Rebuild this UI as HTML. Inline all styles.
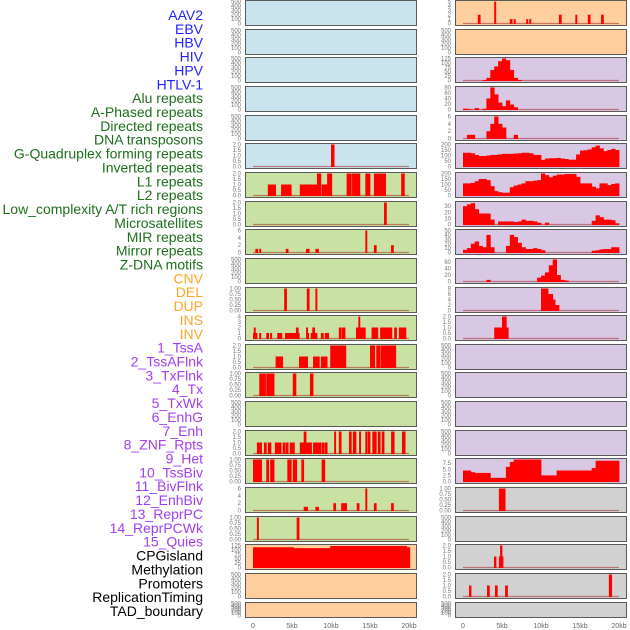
<!DOCTYPE html>
<html><head><meta charset="utf-8">
<style>
html,body{margin:0;padding:0;background:#fff;}
svg{display:block;font-family:"Liberation Sans",sans-serif;}
</style></head>
<body>
<svg id="chart" width="630" height="630" viewBox="0 0 630 630" xmlns="http://www.w3.org/2000/svg"></svg>
<script>
// ---- data ----
const trackLabels = ["AAV2","EBV","HBV","HIV","HPV","HTLV-1","Alu repeats","A-Phased repeats","Directed repeats","DNA transposons","G-Quadruplex forming repeats","Inverted repeats","L1 repeats","L2 repeats","Low_complexity A/T rich regions","Microsatellites","MIR repeats","Mirror repeats","Z-DNA motifs","CNV","DEL","DUP","INS","INV","1_TssA","2_TssAFlnk","3_TxFlnk","4_Tx","5_TxWk","6_EnhG","7_Enh","8_ZNF_Rpts","9_Het","10_TssBiv","11_BivFlnk","12_EnhBiv","13_ReprPC","14_ReprPCWk","15_Quies","CPGisland","Methylation","Promoters","ReplicationTiming","TAD_boundary"];
const labelGroups = [0,0,0,0,0,0,1,1,1,1,1,1,1,1,1,1,1,1,1,2,2,2,2,2,3,3,3,3,3,3,3,3,3,3,3,3,3,3,3,4,4,4,4,4];
const groupColors = ["#2222ff","#1e6e1e","#ffa526","#a040f0","#000000"];
const xTicks = [0,5,10,15,20];
const xTickLabels = ["0","5kb","10kb","15kb","20kb"];

const T500=[0,100,200,300,400,500], T2=[0,0.5,1,1.5,2], T1=[0,0.25,0.5,0.75,1];
const leftBg = ["b","b","b","b","b","b","g","g","g","g","g","g","g","g","g","g","g","g","g","o","o","o"];
const rightBg = ["o","o","p","p","p","p","p","p","p","p","p","p","p","p","p","p","p","y","y","y","y","y"];
const leftTicks = [T500,T500,T500,T500,T500,T2,T2,T2,[0,2,4,6],T500,T1,[0,1,2,3,4],T2,T1,T500,T2,T1,[0,2,4,6],T1,[0,25,50,75,100,125],T500,T500];
const rightTicks = [[0,1,2,3,4,5],T500,[0,25,50,75,100,125],[0,20,40,60,80],[0,2,4,6],[0,50,100,150,200],[0,50,100,150,200],[0,10,20,30],[0,10,20,30,40,50],[0,20,40,60],[0,2,4,6,8],T2,T500,T500,T500,T500,[0,2.5,5,7.5],T1,T500,T2,T2,T500];
const leftMax = [500,500,500,500,500,2,2,2,6,500,1,4,2,1,500,2,1,6,1,125,500,500];
const rightMax = [5,500,125,80,6,200,200,36,50,68,8,2,500,500,500,500,9,1,500,2,2,500];

const leftBars = [
 [],[],[],[],[],
 [[10.0,10.4,2]],
 [[1.9,2.9,1],[3.6,4.9,1],[6.0,8.2,1],[8.2,8.7,2],[8.8,9.5,1],[9.5,10.1,2],[12.0,12.6,2],[12.7,13.7,2],[14.4,15.0,2],[15.5,17.0,2],[19.0,19.4,2]],
 [[16.8,17.1,2]],
 [[0.3,0.6,1],[0.8,1.0,1],[4.2,4.5,1],[6.8,7.2,1],[8.0,8.4,1],[14.4,14.6,6],[15.5,15.8,2],[17.7,18.0,2]],
 [],
 [[4.0,4.3,1],[6.9,7.2,1],[8.0,8.2,1]],
 [[0,0.1,1],[0.1,0.3,2],[0.3,0.5,1],[0.8,1.0,1],[1.7,2.0,1],[2.2,2.4,1],[3.1,3.7,1],[4.1,5.5,1],[5.5,5.8,2],[5.8,5.9,1],[6.8,7.0,2],[7.0,7.1,1],[7.4,7.6,1],[7.6,7.9,2],[7.9,8.2,1],[8.7,9.0,1],[9.2,9.7,1],[11.0,11.3,2],[11.4,11.8,2],[13.2,13.5,2],[13.5,13.7,4],[13.7,14.4,2],[15.2,16.0,2],[16.3,17.8,2],[18.1,18.4,2],[18.7,19.6,2]],
 [[2.9,3.8,1],[5.9,7.0,1],[7.7,8.5,1],[8.7,9.5,1],[9.9,11.9,2],[15.0,15.6,2],[15.8,16.3,2],[16.4,18.3,2]],
 [[0.8,1.6,1],[1.7,2.7,1],[5.1,5.5,1],[7.3,7.7,1]],
 [],
 [[0.5,1.1,1],[1.4,1.7,1],[1.9,2.3,1],[2.8,3.6,1],[3.8,4.1,1],[4.2,4.5,1],[4.7,5.3,1],[6.0,6.5,1],[6.5,6.8,2],[6.8,7.5,1],[7.7,8.7,1],[8.8,9.1,1],[9.2,9.5,1],[10.4,10.6,2],[11.0,11.3,2],[12.3,12.6,2],[12.8,13.2,2],[13.6,13.8,2],[14.4,14.6,2],[14.7,15.0,2],[15.3,15.8,2],[16.0,16.3,2],[16.5,16.8,2],[17.7,18.1,2],[19.1,19.5,2]],
 [[0,1.1,1],[1.7,2.0,1],[2.2,2.7,1],[4.4,4.9,1],[5.1,5.6,1],[6.2,6.5,1],[8.8,9.2,1]],
 [[6.5,7.0,1],[8.0,8.4,1],[10.3,10.6,2],[11.3,12.0,2],[13.3,13.6,2],[14.4,14.6,6],[15.5,15.8,2],[17.7,18.0,2]],
 [[0.5,0.7,1],[5.6,5.9,1]],
 [[0,5.2,115],[5.2,9.9,110],[9.9,19.7,122],[19.7,20.1,115]],
 [],[]
];
const rightBars = [
 [[1.9,2.2,2],[4.0,4.2,5],[6.0,6.3,1],[6.5,6.7,1],[8.1,8.3,1],[8.5,8.7,1],[12.3,12.6,2],[14.4,14.6,2],[16.0,16.3,2],[17.7,18.0,2]],
 [],[],[],[],[],[],[],[],[],
 [[10.0,10.9,8],[10.9,11.5,6],[11.5,11.8,4],[11.8,12.3,2]],
 [[4.0,5.0,1],[5.0,5.55,2],[5.55,5.8,1]],
 [],[],[],[],[],
 [[4.6,5.4,1]],
 [],
 [[3.97,4.23,1],[4.6,4.75,1],[4.75,5.0,2],[5.0,5.13,1]],
 [[0.77,1.03,1],[3.08,3.38,1],[4.1,4.4,1],[5.4,5.7,1],[18.7,19.06,2]],
 []
];
const hivBins = [0,0,0,0,0,3,15,60,80,110,125,115,60,15,3,0,0,0,0,0,0,0,0,0,0,0,0,0,0,0,0,0,0,0,0,0,0,0,0,0];
const hpvBins = [3,2,0,5,0,3,40,80,55,25,12,33,18,8,0,0,0,0,0,0,0,0,0,0,0,0,0,0,0,0,0,0,0,0,0,0,0,0,0,0];
const htlvBins = [0,1,1,0,0,0,2,4,6,4,3,0,0,1,0,0,0,0,0,0,0,0,0,0,0,0,0,0,0,0,0,0,0,0,0,0,0,0,0,0];
const gquadBins = [125,125,120,105,95,95,100,105,105,110,115,115,115,118,120,125,125,120,105,105,60,72,75,75,78,72,68,62,62,110,145,148,155,175,190,165,140,150,160,150];
const l1Bins = [110,110,115,130,150,150,140,85,40,30,25,25,75,90,100,110,130,130,135,140,200,185,165,180,190,190,195,195,195,170,110,110,110,80,65,110,110,95,105,110];
const lowCompBins = [30,33,35,25,18,18,18,8,0,5,5,5,5,4,5,8,6,6,5,3,0,3,0,0,0,0,0,0,0,0,0,0,0,6,15,12,8,8,7,2];
const mirBins = [6,10,20,25,15,12,40,12,0,0,0,15,40,35,22,12,8,8,10,8,5,0,0,0,0,0,0,0,0,0,0,0,0,4,5,7,8,8,12,12];
const zdnaBins = [0,0,0,0,0,0,5,0,0,0,0,0,0,0,0,0,0,0,0,12,18,28,50,68,20,5,3,0,0,0,0,0,0,0,0,0,0,0,0,0];
const tssBivBins = [4.5,4.5,3.8,3.5,3.5,3.5,3.5,1.5,1.5,1.5,1.5,6,8,9,9,9,9,9,9,9,2.5,2.5,2.5,2.5,4.5,4.5,4.5,4.5,4.5,4.5,4.5,4.5,4.5,5.5,8.5,8.5,8.5,8.5,8.5,8.5];
const rightBins = {2:hivBins,3:hpvBins,4:htlvBins,5:gquadBins,6:l1Bins,7:lowCompBins,8:mirBins,9:zdnaBins,16:tssBivBins};

// ---- layout ----
const NS="http://www.w3.org/2000/svg";
const svg=document.getElementById('chart');
const bgColors={b:"#c9e4ec",g:"#c9e1a3",o:"#ffcf9e",p:"#d8c8e3",y:"#d1d1d1"};
const rowTops=[];for(let i=0;i<22;i++)rowTops.push(Math.round(i*28.65));
function rowH(i){return i===21?15:25;}
const cols=[{x0:245,x1:416,zero:253},{x0:455,x1:626,zero:463}];
const pxPerKb=7.8;
function xScale(c,kb){return cols[c].zero+kb*pxPerKb;}
function yScale(r,ymax,v){const top=rowTops[r]+1.5,bot=rowTops[r]+rowH(r)-1.5;return bot-(v/ymax)*(bot-top);}
function mk(tag,attrs){const e=document.createElementNS(NS,tag);for(const k in attrs)e.setAttribute(k,attrs[k]);return e;}
function fmt(t,ticks){const step=ticks[1]-ticks[0];if(step===0.25)return t.toFixed(2);if(step===0.5||step===2.5)return t.toFixed(1);return String(t);}

trackLabels.forEach((lab,i)=>{
  const t=mk('text',{x:203,y:(20+i*13.86).toFixed(1),'text-anchor':'end','font-size':'14',fill:groupColors[labelGroups[i]]});
  
  
  t.textContent=lab;svg.appendChild(t);
});

function drawPanel(c,r,bg,ticks,ymax,bars,bins){
  const g=mk('g',{});
  
  
  const top=rowTops[r],h=rowH(r);
  const rect=mk('rect',{x:cols[c].x0+0.5,y:top+0.5,width:cols[c].x1-cols[c].x0,height:h,fill:bgColors[bg],stroke:'#5a5a5a','stroke-width':1});
  
  
  g.appendChild(rect);
  const all=bars.slice();
  if(bins){bins.forEach((v,i)=>{if(v>0)all.push([i*0.5,i*0.5+0.5,v]);});}
  if(all.length){
    const bl=mk('line',{x1:xScale(c,0),x2:xScale(c,20),y1:yScale(r,ymax,0),y2:yScale(r,ymax,0),stroke:'rgba(170,40,40,0.55)','stroke-width':1.2});
    
    
    g.appendChild(bl);
  }
  all.forEach(b=>{
    const x1=xScale(c,b[0]),x2=xScale(c,b[1]);const y=yScale(r,ymax,Math.min(b[2],ymax));const y0=yScale(r,ymax,0)+0.5;
    const br=mk('rect',{x:x1.toFixed(2),y:y.toFixed(2),width:(Math.max(1,x2-x1)+0.4).toFixed(2),height:(y0-y).toFixed(2),fill:'#ff0000'});
    
    
    g.appendChild(br);
  });
  ticks.forEach(t=>{
    const tt=mk('text',{x:cols[c].x0-4,y:(yScale(r,ymax,t)+2).toFixed(1),'text-anchor':'end','font-size':'6',fill:'#777'});
    
    
    tt.textContent=fmt(t,ticks);g.appendChild(tt);
  });
  svg.appendChild(g);
}
for(let r=0;r<22;r++){
  drawPanel(0,r,leftBg[r],leftTicks[r],leftMax[r],leftBars[r],null);
  drawPanel(1,r,rightBg[r],rightTicks[r],rightMax[r],rightBars[r],rightBins[r]||null);
}
[0,1].forEach(c=>{
  xTicks.forEach((k,i)=>{
    const t=mk('text',{x:xScale(c,k),y:628,'text-anchor':'middle','font-size':'7',fill:'#666'});
    
    
    t.textContent=xTickLabels[i];svg.appendChild(t);
  });
});
</script>
</body></html>
